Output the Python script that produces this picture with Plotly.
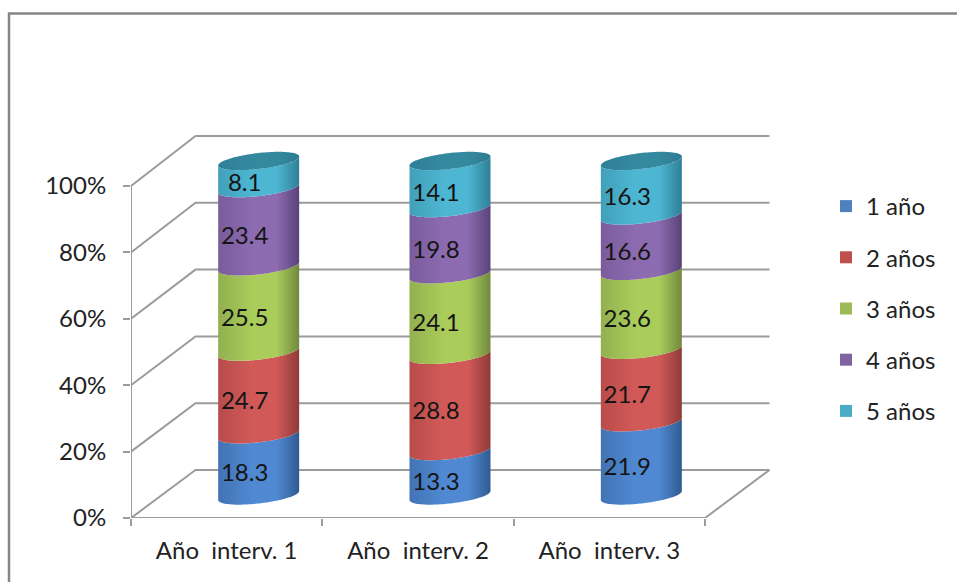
import numpy as np
import plotly.graph_objects as go

categories = ["Año\u00a0 interv. 1", "Año\u00a0 interv. 2", "Año\u00a0 interv. 3"]
series_names = ["1 año", "2 años", "3 años", "4 años", "5 años"]
values_1 = [18.3, 13.3, 21.9]
values_2 = [24.7, 28.8, 21.7]
values_3 = [25.5, 24.1, 23.6]
values_4 = [23.4, 19.8, 16.6]
values_5 = [8.1, 14.1, 16.3]
percent_ticks = [0, 20, 40, 60, 80, 100]

flat_colors = ["#4F81BD", "#C0504D", "#9BBB59", "#8064A2", "#4BACC6"]
shades = [
    ("#4273B4", "#5089D2", "#2F5C90"),
    ("#B84C4A", "#D15A58", "#8F3B39"),
    ("#92B04F", "#A9CC5B", "#71893D"),
    ("#7A5C9C", "#8C6BB0", "#59437A"),
    ("#42A0B9", "#4DB6D3", "#2F7F96"),
]
cap_color = ("#2E7F98", "#35899F", "#2C7A92")

# Pixel geometry. The front plane of the 3D-look chart spans FRONT_*; the axes
# extend further right and up so that the back wall stays inside the plot area.
WIDTH, HEIGHT = 957, 582
FRONT_LEFT, FRONT_RIGHT, FRONT_TOP, FRONT_BOTTOM = 131, 705, 186, 518
AREA_RIGHT, AREA_TOP = 790, 125
PX_X = (FRONT_RIGHT - FRONT_LEFT) / 3      # pixels per category
PX_Y = (FRONT_BOTTOM - FRONT_TOP) / 100    # pixels per percent
X_MIN = -0.5
X_MAX = X_MIN + (AREA_RIGHT - FRONT_LEFT) / PX_X
Y_MAX = (FRONT_BOTTOM - AREA_TOP) / PX_Y

# Depth offsets (pixels) for the back wall and for the cylinder axis.
WALL_DX, WALL_LIFT, WALL_SCALE = 64.5, 48, 334 / 332
CYL_DX, CYL_LIFT, CYL_SCALE = 32, 22.5, 334.5 / 332
CYL_RX, CYL_RY, CYL_TILT = 40.5, 8, 4.5
LABEL_DX, LABEL_DY = -14, 10.5


def wall_xy(x, v):
    return x + WALL_DX / PX_X, v * WALL_SCALE + WALL_LIFT / PX_Y


def ring(cat, level, t):
    """Points of the tilted ellipse at a stacked level of one cylinder."""
    x = cat + (CYL_DX + CYL_RX * np.cos(t)) / PX_X
    y = level * CYL_SCALE + (CYL_LIFT + CYL_TILT * np.cos(t) - CYL_RY * np.sin(t)) / PX_Y
    return x, y


def gradient(colors):
    return dict(
        type="horizontal",
        colorscale=[[0, colors[0]], [0.42, colors[1]], [0.72, colors[1]], [1, colors[2]]],
    )


fig = go.Figure()

# Walls and floor
GRID = "#9C9C9C"
FRONT_X_END = X_MIN + 3
gx, gy = [], []
for v in percent_ticks:
    bx, by = wall_xy(X_MIN, v)
    ex, ey = wall_xy(FRONT_X_END, v)
    gx += [X_MIN, bx, ex, None]
    gy += [v, by, ey, None]
fx, fy = wall_xy(FRONT_X_END, 0)
gx += [FRONT_X_END, fx, None]
gy += [0, fy, None]
# Front axis lines stop at the front plane, so they are drawn here rather than by the axes
gx += [X_MIN, X_MIN, FRONT_X_END]
gy += [100, 0, 0]
fig.add_trace(go.Scatter(x=gx, y=gy, mode="lines", line=dict(color=GRID, width=2),
                         hoverinfo="skip", showlegend=False))

# Cylinders, built bottom-up so that each segment overlaps the one below
stack = np.array([values_1, values_2, values_3, values_4, values_5], dtype=float)
shares = stack / stack.sum(axis=0) * 100
front = np.linspace(np.pi, 0, 60)
around = np.linspace(0, 2 * np.pi, 120)

label_x, label_y, label_text = [], [], []
for cat in range(len(categories)):
    level = 0.0
    for s in range(len(series_names)):
        upper = level + shares[s, cat]
        lx, ly = ring(cat, level, front)
        ux, uy = ring(cat, upper, front[::-1])
        fig.add_trace(go.Scatter(
            x=np.r_[lx, ux], y=np.r_[ly, uy], mode="none", fill="toself",
            fillgradient=gradient(shades[s]), hoverinfo="skip", showlegend=False))
        mid = (level + upper) / 2
        label_x.append(cat + (CYL_DX + LABEL_DX) / PX_X)
        label_y.append(mid * CYL_SCALE + (CYL_LIFT - LABEL_DY) / PX_Y)
        label_text.append(f"{stack[s, cat]:.1f}")
        level = upper
    cx, cy = ring(cat, level, around)
    fig.add_trace(go.Scatter(
        x=cx, y=cy, mode="none", fill="toself", fillgradient=gradient(cap_color),
        hoverinfo="skip", showlegend=False))

fig.add_trace(go.Scatter(
    x=label_x, y=label_y, text=label_text, mode="text", textposition="middle center",
    textfont=dict(family="Lato", size=24, color="#141414"),
    hoverinfo="skip", showlegend=False))

# Legend keys
for s, name in enumerate(series_names):
    fig.add_trace(go.Scatter(
        x=[None], y=[None], mode="markers", name=name, legendgroup=name,
        marker=dict(symbol="square", size=15, color=flat_colors[s])))

span_x = AREA_RIGHT - FRONT_LEFT
span_y = FRONT_BOTTOM - AREA_TOP
frame_left = (9 - FRONT_LEFT) / span_x
frame_right = (WIDTH + 5 - FRONT_LEFT) / span_x
frame_top = (FRONT_BOTTOM - 13.5) / span_y
frame_bottom = (FRONT_BOTTOM - HEIGHT - 5) / span_y

fig.update_layout(
    width=WIDTH, height=HEIGHT,
    margin=dict(l=FRONT_LEFT, r=WIDTH - AREA_RIGHT, t=AREA_TOP, b=HEIGHT - FRONT_BOTTOM),
    paper_bgcolor="white", plot_bgcolor="rgba(0,0,0,0)",
    font=dict(family="Lato", size=24, color="#222222"),
    shapes=[dict(type="path", xref="paper", yref="paper",
                 path=f"M {frame_left} {frame_bottom} L {frame_left} {frame_top} L {frame_right} {frame_top}",
                 line=dict(color="#868686", width=2.5))],
    legend=dict(x=(826 - FRONT_LEFT) / span_x, y=(FRONT_BOTTOM - 184) / span_y,
                xanchor="left", yanchor="top", traceorder="reversed+grouped",
                tracegroupgap=17, itemsizing="constant", bgcolor="rgba(0,0,0,0)",
                font=dict(family="Lato", size=24, color="#222222")),
    xaxis=dict(range=[X_MIN, X_MAX], tickmode="array", tickvals=list(range(len(categories))),
               ticktext=categories, ticks="", showgrid=False, zeroline=False,
               showline=False, ticklabelstandoff=16,
               minor=dict(tickmode="array", tickvals=[X_MIN, 0.5, 1.5, FRONT_X_END], ticks="outside",
                          ticklen=7, tickwidth=2, tickcolor=GRID, showgrid=False)),
    yaxis=dict(range=[0, Y_MAX], tickmode="array", tickvals=percent_ticks,
               ticktext=[f"{v}%" for v in percent_ticks], ticks="outside", ticklen=7,
               tickwidth=2, tickcolor=GRID, showgrid=False, zeroline=False,
               showline=False, ticklabelstandoff=12),
)

fig.write_html("out.html", config={"displayModeBar": False})
